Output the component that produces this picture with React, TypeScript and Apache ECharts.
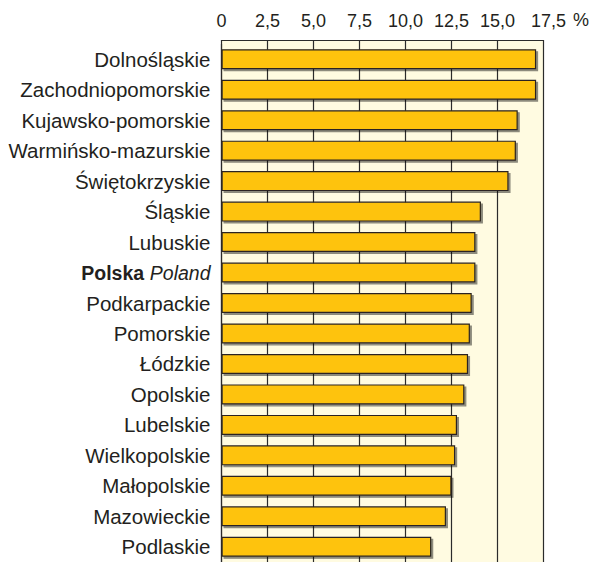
import React, { useEffect, useRef } from "react";
import * as echarts from "echarts";

const categories = [
  "Dolnośląskie",
  "Zachodniopomorskie",
  "Kujawsko-pomorskie",
  "Warmińsko-mazurskie",
  "Świętokrzyskie",
  "Śląskie",
  "Lubuskie",
  "Polska",
  "Podkarpackie",
  "Pomorskie",
  "Łódzkie",
  "Opolskie",
  "Lubelskie",
  "Wielkopolskie",
  "Małopolskie",
  "Mazowieckie",
  "Podlaskie",
];

const values = [17.1, 17.1, 16.1, 16.0, 15.6, 14.1, 13.8, 13.8, 13.6, 13.5, 13.4, 13.2, 12.8, 12.7, 12.5, 12.2, 11.4];

const tickValues = [0, 2.5, 5.0, 7.5, 10.0, 12.5, 15.0, 17.5];
const tickLabels = ["0", "2,5", "5,0", "7,5", "10,0", "12,5", "15,0", "17,5"];
const unitLabel = "%";

const FONT = "'Liberation Sans', Arial, Helvetica, sans-serif";
const TEXT = "#231f20";

export default function App() {
  const ref = useRef<HTMLDivElement>(null);
  useEffect(() => {
    if (!ref.current) return;
    const chart = echarts.init(ref.current, null, { renderer: "svg" });
    const gridLeft = 221.5;
    const gridWidth = 322;
    const gridTop = 44;
    chart.setOption({
      animation: false,
      textStyle: { fontFamily: FONT },
      grid: { left: gridLeft, top: gridTop, width: gridWidth, height: 518 },
      graphic: [
        {
          type: "rect",
          z: -10,
          silent: true,
          shape: { x: gridLeft, y: 40, width: gridWidth, height: 530 },
          style: { fill: "#fffbe1" },
        },
        {
          type: "text",
          x: 581,
          y: 20,
          style: {
            text: unitLabel,
            fontSize: 18,
            fontFamily: FONT,
            fill: TEXT,
            align: "center",
            verticalAlign: "middle",
          },
        },
      ],
      xAxis: {
        type: "value",
        position: "top",
        min: 0,
        max: 17.5,
        interval: 2.5,
        offset: 4,
        axisLine: { show: true, lineStyle: { color: "#2b2b2b", width: 1.2 } },
        axisTick: { show: true, inside: true, length: 4, lineStyle: { color: "#2b2b2b", width: 1.2 } },
        splitLine: { show: true, lineStyle: { color: "#2b2b2b", width: 1.2 } },
        axisLabel: {
          fontSize: 18,
          color: TEXT,
          margin: 10,
          formatter: (v: number) => {
            const i = tickValues.findIndex((t) => Math.abs(t - v) < 1e-6);
            if (i < 0) return "";
            return i === tickValues.length - 1 ? "{r|" + tickLabels[i] + "}" : tickLabels[i];
          },
          rich: {
            r: { fontSize: 18, color: TEXT, fontFamily: FONT, padding: [0, 0, 0, 10] },
          },
        },
      },
      yAxis: {
        type: "category",
        data: categories,
        inverse: true,
        axisLine: { show: true, lineStyle: { color: "#2b2b2b", width: 1.2 } },
        axisTick: { show: false },
        axisLabel: {
          fontSize: 20.5,
          color: TEXT,
          margin: 11,
          formatter: (v: string) => (v === "Polska" ? "{b|Polska} {i|Poland}" : v),
          rich: {
            b: { fontWeight: "bold", fontSize: 19.5, color: TEXT, fontFamily: FONT },
            i: { fontStyle: "italic", fontSize: 19.5, color: TEXT, fontFamily: FONT },
          },
        },
      },
      series: [
        {
          type: "bar",
          data: values,
          barWidth: 20,
          itemStyle: {
            color: "#fec30f",
            borderColor: "#2a2420",
            borderWidth: 1.2,
            shadowColor: "rgba(0,0,0,0.45)",
            shadowOffsetX: 2,
            shadowOffsetY: 2,
            shadowBlur: 1,
          },
        },
      ],
    });
    return () => chart.dispose();
  }, []);
  return <div ref={ref} style={{ position: "fixed", left: 0, top: 0, width: 595, height: 562, background: "#fff" }} />;
}
